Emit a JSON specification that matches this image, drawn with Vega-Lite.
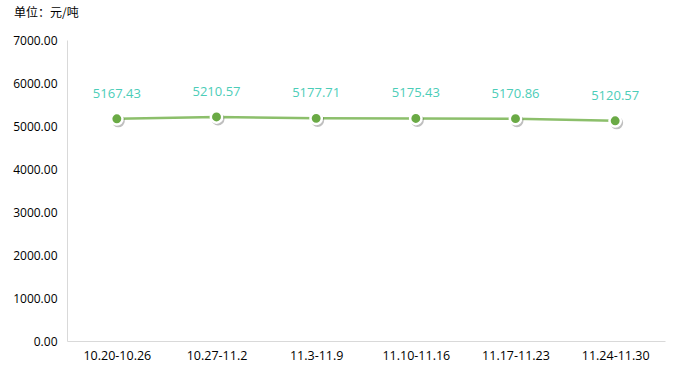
{
  "$schema": "https://vega.github.io/schema/vega-lite/v6.json",
  "width": 598,
  "height": 301,
  "autosize": "none",
  "padding": {"left": 67, "top": 40, "right": 11, "bottom": 33},
  "background": "white",
  "title": {"text": "单位：元/吨", "anchor": "start", "frame": "group", "dx": -53, "offset": 14, "fontSize": 12, "fontWeight": "normal", "font": "Noto Sans CJK SC", "color": "#000000"},
  "config": {"view": {"stroke": null}, "font": "Open Sans"},
  "data": {"values": [
    {"week": "10.20-10.26", "price": 5167.43},
    {"week": "10.27-11.2", "price": 5210.57},
    {"week": "11.3-11.9", "price": 5177.71},
    {"week": "11.10-11.16", "price": 5175.43},
    {"week": "11.17-11.23", "price": 5170.86},
    {"week": "11.24-11.30", "price": 5120.57}
  ]},
  "encoding": {
    "x": {"field": "week", "type": "nominal", "sort": null, "scale": {"type": "point", "padding": 0.5},
      "axis": {"title": null, "labelAngle": 0, "ticks": false, "domainColor": "#d9d9d9", "labelColor": "#000000", "labelFontSize": 12.5, "labelPadding": 8}},
    "y": {"field": "price", "type": "quantitative", "scale": {"domain": [0, 7000]},
      "axis": {"title": null, "values": [0,1000,2000,3000,4000,5000,6000,7000], "format": ".2f", "grid": false, "ticks": false, "domain": true, "domainColor": "#d9d9d9", "labelColor": "#000000", "labelFontSize": 12, "labelPadding": 10}}
  },
  "layer": [
    {"mark": {"type": "line", "color": "#8cbf6b", "strokeWidth": 2.5}},
    {"mark": {"type": "point", "filled": true, "fill": "#000000", "opacity": 0.25, "size": 170, "xOffset": 1.5, "yOffset": 2}},
    {"mark": {"type": "point", "filled": true, "fill": "#6aaa45", "stroke": "white", "strokeWidth": 2.5, "size": 130, "opacity": 1, "strokeOpacity": 1}},
    {"mark": {"type": "text", "dy": -25, "color": "#4ccdb8", "fontSize": 13}, "encoding": {"text": {"field": "price", "type": "quantitative", "format": ".2f"}}}
  ]
}
